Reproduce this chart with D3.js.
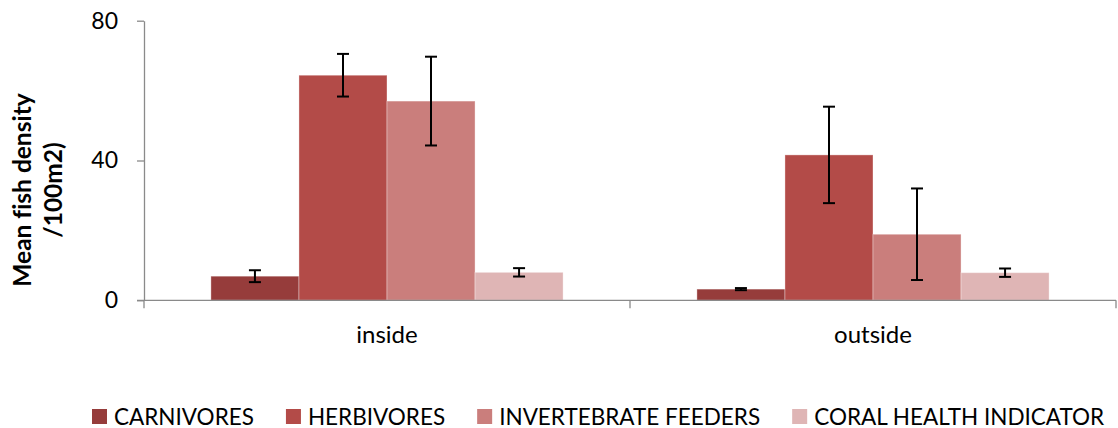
<!DOCTYPE html>
<html>
<head>
<meta charset="utf-8">
<script src="https://cdn.jsdelivr.net/npm/d3@7"></script>
<style>
  body { margin: 0; background: #fff; }
  svg text { font-family: Lato, "Open Sans", sans-serif; fill: #000; font-variant-ligatures: none; }
</style>
</head>
<body>
<div id="chart"></div>
<script>
// values
const groups = ['inside', 'outside'];
const seriesNames = ['CARNIVORES', 'HERBIVORES', 'INVERTEBRATE FEEDERS', 'CORAL HEALTH INDICATOR'];
const insideMeans = [6.9, 64.4, 57.0, 8.0];
const insideErrors = [1.7, 6.1, 12.7, 1.2];
const outsideMeans = [3.2, 41.6, 18.9, 7.9];
const outsideErrors = [0.3, 13.8, 13.1, 1.2];
const yTicks = [0, 40, 80];
const colors = ['#963c3b', '#b34b48', '#ca7e7c', '#dfb5b5'];

const width = 1118, height = 428;
const margins = {'top': 20.7, 'right': 2, 'bottom': 127.7, 'left': 144};
const axisColor = '#8a8a8a';

const svg = d3.select('#chart')
  .append('svg')
  .attr('width', width)
  .attr('height', height);

const y = d3.scaleLinear()
  .domain([0, 80])
  .range([height - margins.bottom, margins.top]);

const x0 = d3.scaleBand()
  .domain(groups)
  .range([margins.left, width - margins.right]);

const x1 = d3.scaleBand()
  .domain(seriesNames)
  .range([0, x0.bandwidth()])
  .paddingInner(0)
  .paddingOuter(0.76);

const color = d3.scaleOrdinal().domain(seriesNames).range(colors);

const rows = [
  {group: 'inside', means: insideMeans, errors: insideErrors},
  {group: 'outside', means: outsideMeans, errors: outsideErrors}
];

// y axis
const yAxis = svg.append('g')
  .attr('transform', `translate(${margins.left}, 0)`)
  .call(d3.axisLeft(y).tickValues(yTicks).tickSize(7).tickSizeOuter(0).tickPadding(19));
yAxis.select('.domain').attr('stroke', axisColor).attr('stroke-width', 1.3);
yAxis.selectAll('.tick line').attr('stroke', axisColor).attr('stroke-width', 1.3);
yAxis.selectAll('.tick text')
  .attr('font-size', 23)
  .attr('font-family', 'Lato')
  .attr('fill', '#000');

// y title, two lines
const yTitle = svg.append('text')
  .attr('transform', `translate(31, 190) rotate(-90)`)
  .attr('text-anchor', 'middle')
  .attr('font-size', 24.5)
  .attr('font-weight', 'bold');
yTitle.append('tspan').attr('x', 0).attr('dy', 0).text('Mean fish density');
yTitle.append('tspan').attr('x', 0).attr('dy', 31).text('/100m2)');

// bars
const groupG = svg.selectAll('.group')
  .data(rows)
  .enter()
  .append('g')
  .attr('class', 'group')
  .attr('transform', d => `translate(${x0(d.group)}, 0)`);

groupG.selectAll('rect')
  .data(d => d.means.map((m, i) => ({name: seriesNames[i], mean: m, err: d.errors[i]})))
  .enter()
  .append('rect')
  .attr('x', d => x1(d.name))
  .attr('y', d => y(d.mean))
  .attr('width', x1.bandwidth())
  .attr('height', d => y(0) - y(d.mean))
  .attr('fill', d => color(d.name))
  .attr('stroke', 'rgba(255,255,255,0.35)')
  .attr('stroke-width', 1);

// error bars
const capHalf = 6;
const errG = groupG.selectAll('.err')
  .data(d => d.means.map((m, i) => ({name: seriesNames[i], mean: m, err: d.errors[i]})))
  .enter()
  .append('g')
  .attr('class', 'err')
  .attr('stroke', '#000')
  .attr('stroke-width', 2);

errG.append('line')
  .attr('x1', d => x1(d.name) + x1.bandwidth() / 2)
  .attr('x2', d => x1(d.name) + x1.bandwidth() / 2)
  .attr('y1', d => y(d.mean + d.err))
  .attr('y2', d => y(d.mean - d.err));
errG.append('line')
  .attr('x1', d => x1(d.name) + x1.bandwidth() / 2 - capHalf)
  .attr('x2', d => x1(d.name) + x1.bandwidth() / 2 + capHalf)
  .attr('y1', d => y(d.mean + d.err))
  .attr('y2', d => y(d.mean + d.err));
errG.append('line')
  .attr('x1', d => x1(d.name) + x1.bandwidth() / 2 - capHalf)
  .attr('x2', d => x1(d.name) + x1.bandwidth() / 2 + capHalf)
  .attr('y1', d => y(d.mean - d.err))
  .attr('y2', d => y(d.mean - d.err));

// x axis: line, boundary ticks, labels
const xAxis = svg.append('g');
xAxis.append('line')
  .attr('x1', margins.left - 7)
  .attr('x2', x0.range()[1])
  .attr('y1', y(0))
  .attr('y2', y(0))
  .attr('stroke', axisColor)
  .attr('stroke-width', 1.3);

const bounds = groups.map(g => x0(g)).concat([x0.range()[1]]);
xAxis.selectAll('.btick')
  .data(bounds)
  .enter()
  .append('line')
  .attr('x1', d => d)
  .attr('x2', d => d)
  .attr('y1', y(0))
  .attr('y2', y(0) + 8)
  .attr('stroke', axisColor)
  .attr('stroke-width', 1.3);

xAxis.selectAll('.xlabel')
  .data(groups)
  .enter()
  .append('text')
  .attr('x', d => x0(d) + x0.bandwidth() / 2)
  .attr('y', y(0) + 43)
  .attr('text-anchor', 'middle')
  .attr('font-size', 24)
  .text(d => d);

// legend
const legend = svg.append('g').attr('transform', `translate(92, 409)`);
let lx = 0;
seriesNames.forEach((name, i) => {
  const item = legend.append('g').attr('transform', `translate(${lx}, 0)`);
  item.append('rect')
    .attr('width', 15)
    .attr('height', 15)
    .attr('fill', color(name));
  const t = item.append('text')
    .attr('x', 22)
    .attr('y', 15.5)
    .attr('font-size', 22.5)
    .text(name);
  lx += 22 + t.node().getComputedTextLength() + 32;
});
</script>
</body>
</html>
